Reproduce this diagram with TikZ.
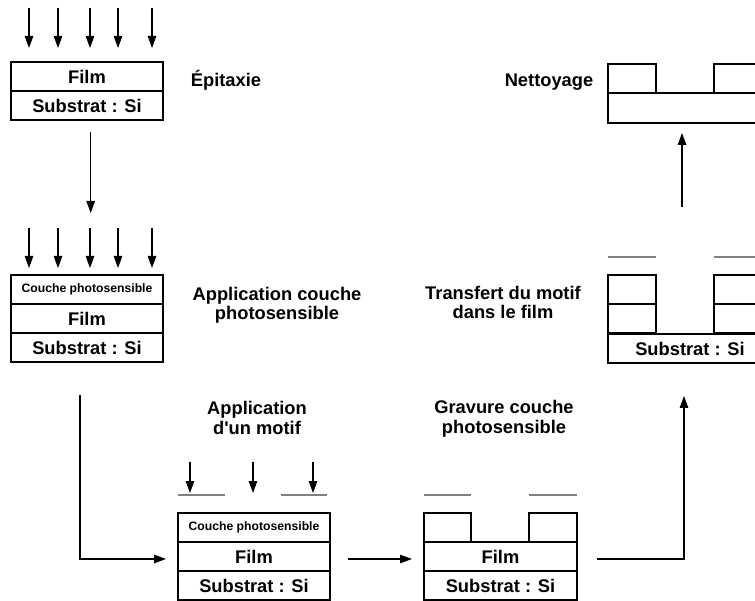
\documentclass[tikz,border=0pt]{standalone}
\usepackage{fontspec}
\setmainfont{Liberation Sans}
\usetikzlibrary{arrows.meta}
\begin{document}
\begin{tikzpicture}[x=1pt,y=-1pt,
  layer/.style={draw, line width=1.3pt, minimum width=152pt, minimum height=29pt, inner sep=0pt, font=\bfseries\fontsize{18.3}{20}\selectfont},
  small/.style={font=\bfseries\fontsize{12.2}{14}\selectfont},
  block/.style={draw, line width=1.3pt, minimum width=48pt, minimum height=29pt, inner sep=0pt},
  lbl/.style={align=center, anchor=base, inner sep=0pt, font=\bfseries\fontsize{18.3}{19.5}\selectfont},
  arr/.style={line width=1.2pt, -{Triangle[length=12pt,width=8.5pt]}},
  mask/.style={draw=gray, line width=1.5pt}
]
\useasboundingbox (0,0) rectangle (755,601);
\clip (0,0) rectangle (755,601);

% Stack 1 : epitaxie
\node[layer] (s1film) at (87,76.5) {Film};
\node[layer] (s1sub) at (87,105.5) {Substrat : Si};
\foreach \x in {29,58,90,118,152} \draw[arr] (\x,8) -- (\x,48);
\node[lbl] (l1) at (226,87) {Épitaxie};

% Stack 2 : couche photosensible
\node[layer, small] (s2ph) at (87,289.5) {Couche photosensible};
\node[layer] (s2film) at (87,318.5) {Film};
\node[layer] (s2sub) at (87,347.5) {Substrat : Si};
\foreach \x in {29,58,90,118,152} \draw[arr] (\x,228) -- (\x,268);
\node[lbl] (l2) at (277,320) {Application couche\\photosensible};

% Stack 3 : motif
\node[layer, small] (s3ph) at (254,527.5) {Couche photosensible};
\node[layer] (s3film) at (254,556.5) {Film};
\node[layer] (s3sub) at (254,585.5) {Substrat : Si};
\foreach \x in {190,253,313} \draw[arr] (\x,462) -- (\x,493);
\draw[mask] (178,495) -- (225,495);
\draw[mask] (281,495) -- (327,495);
\node[lbl] (l3) at (257,434) {Application\\d\textquotesingle un motif};

% Stack 4 : gravure
\node[block, minimum width=47pt] (s4bl) at (447.5,527.5) {};
\node[block] (s4br) at (553,527.5) {};
\node[layer, minimum width=153pt] (s4film) at (500.5,556.5) {Film};
\node[layer, minimum width=153pt] (s4sub) at (500.5,585.5) {Substrat : Si};
\draw[mask] (424,495) -- (471,495);
\draw[mask] (529,495) -- (577,495);
\node[lbl] (l4) at (504,433) {Gravure couche\\photosensible};

% Stack 5 : transfert
\node[block] (s5bl1) at (632,289.5) {};
\node[block] (s5bl2) at (632,318.5) {};
\node[block, minimum width=58pt] (s5br1) at (743,289.5) {};
\node[block, minimum width=58pt] (s5br2) at (743,318.5) {};
\node[layer, minimum width=164pt] (s5sub) at (690,348.5) {Substrat : Si};
\draw[mask] (608,257) -- (656,257);
\draw[mask] (714,257) -- (775,257);
\node[lbl] (l5) at (503,319) {Transfert du motif\\dans le film};

% Stack 6 : nettoyage
\node[block] (s6bl) at (632,78.5) {};
\node[block, minimum width=58pt] (s6br) at (743,78.5) {};
\node[layer, minimum width=164pt, minimum height=30pt] (s6sub) at (690,108) {};
\node[lbl] (l6) at (549,87) {Nettoyage};

% Connectors
\coordinate (c1a) at (90.7,132);
\coordinate (c1b) at (90.7,213);
\draw[arr] (c1a) -- (c1b);
\coordinate (c2a) at (80,395);
\coordinate (c2b) at (166,559);
\draw[arr] (c2a) |- (c2b);
\coordinate (c3a) at (348,559);
\coordinate (c3b) at (412,559);
\draw[arr] (c3a) -- (c3b);
\coordinate (c4a) at (597,559);
\coordinate (c4b) at (684,396);
\draw[arr] (c4a) -| (c4b);
\coordinate (c5a) at (682,207);
\coordinate (c5b) at (682,133);
\draw[arr] (c5a) -- (c5b);
\end{tikzpicture}
\end{document}
